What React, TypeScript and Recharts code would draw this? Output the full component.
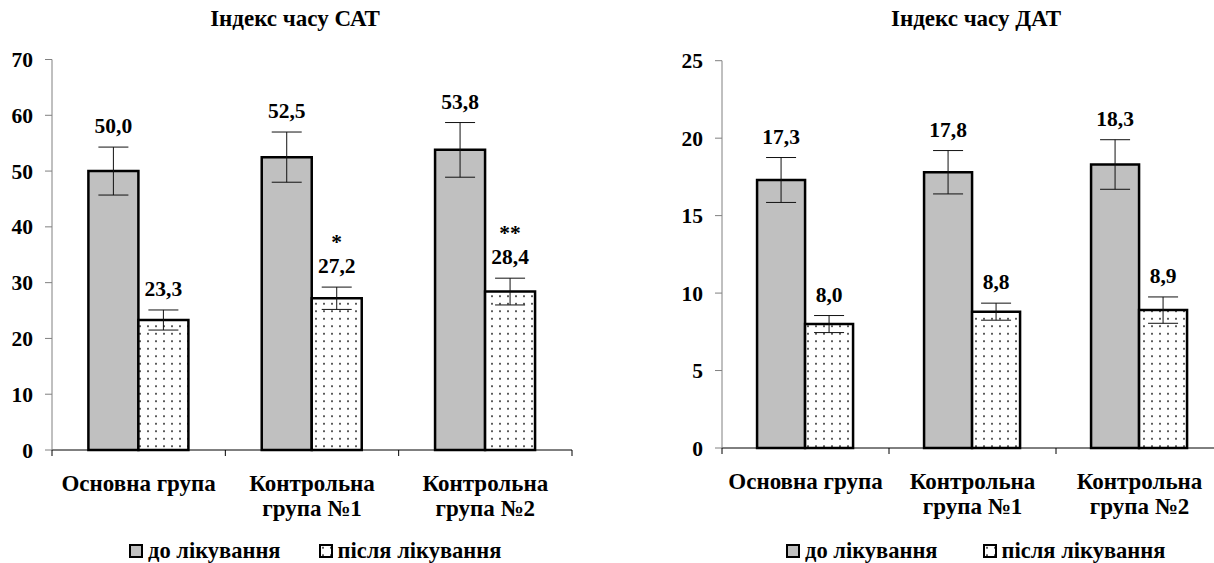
import { Bar, BarChart, ErrorBar, LabelList, XAxis, YAxis } from "recharts";

const categoryLines = [["Основна група"], ["Контрольна", "група №1"], ["Контрольна", "група №2"]];
const seriesNames = ["до лікування", "після лікування"];

// Індекс часу САТ
const satBefore = [50.0, 52.5, 53.8];
const satBeforeErr = [4.3, 4.5, 4.9];
const satAfter = [23.3, 27.2, 28.4];
const satAfterErr = [1.8, 2.0, 2.4];
const satMarks = ["", "*", "**"];
const satTicks = [0, 10, 20, 30, 40, 50, 60, 70];

// Індекс часу ДАТ
const datBefore = [17.3, 17.8, 18.3];
const datBeforeErr = [1.45, 1.4, 1.6];
const datAfter = [8.0, 8.8, 8.9];
const datAfterErr = [0.55, 0.55, 0.85];
const datTicks = [0, 5, 10, 15, 20, 25];

const font = '"Liberation Serif", "Times New Roman", serif';

function buildRows(before: number[], beforeErr: number[], after: number[], afterErr: number[]) {
  return categoryLines.map((lines, i) => ({
    name: lines.join(" "),
    before: before[i],
    beforeErr: beforeErr[i],
    after: after[i],
    afterErr: afterErr[i],
  }));
}

const valueLabel = (errs: number[], marks?: string[]) => (props: any) => {
  const { x, y, width, height, value, index } = props;
  const errTop = y - (errs[index] * height) / value;
  const cx = x + width / 2;
  const base = errTop - 14;
  return (
    <g>
      <text x={cx} y={base} textAnchor="middle" fontWeight="bold" fontSize={21.5} fontFamily={font} fill="#000">
        {Number(value).toFixed(1).replace(".", ",")}
      </text>
      {marks && marks[index] ? (
        <text x={cx} y={base - 24} textAnchor="middle" fontWeight="bold" fontSize={21.5} fontFamily={font} fill="#000">
          {marks[index]}
        </text>
      ) : null}
    </g>
  );
};

const CategoryTick = (props: any) => {
  const { x, y, payload, halfBand, index } = props;
  const lines = categoryLines.find((l) => l.join(" ") === payload.value) || [payload.value];
  return (
    <g>
      {index === 0 ? <line x1={x - halfBand} x2={x - halfBand} y1={y} y2={y + 6} stroke="#000" /> : null}
      <line x1={x + halfBand} x2={x + halfBand} y1={y} y2={y + 6} stroke="#000" />
      {lines.map((line, i) => (
        <text
          key={i}
          x={x}
          y={y + 41 + i * 25}
          textAnchor="middle"
          fontWeight="bold"
          fontSize={23}
          fontFamily={font}
          fill="#000"
        >
          {line}
        </text>
      ))}
    </g>
  );
};

type PanelProps = {
  title: string;
  rows: ReturnType<typeof buildRows>;
  ticks: number[];
  beforeErr: number[];
  afterErr: number[];
  marks?: string[];
  left: number;
  width: number;
  margin: { top: number; right: number; bottom: number; left: number };
  titleX: number;
  legendX: number;
  legendGap: number;
};

function Panel({
  title,
  rows,
  ticks,
  beforeErr,
  afterErr,
  marks,
  left,
  width,
  margin,
  titleX,
  legendX,
  legendGap,
}: PanelProps) {
  const halfBand = (width - margin.left - margin.right - 40) / rows.length / 2;
  return (
    <div style={{ position: "absolute", left, top: 0, width, height: 563 }}>
      <div
        style={{
          position: "absolute",
          left: titleX - 150,
          width: 300,
          top: 5,
          textAlign: "center",
          fontFamily: font,
          fontWeight: "bold",
          fontSize: 23,
          lineHeight: "28px",
        }}
      >
        {title}
      </div>
      <BarChart width={width} height={563} data={rows} margin={margin} barCategoryGap="21%" barGap={0}>
        <XAxis
          dataKey="name"
          height={60}
          axisLine={{ stroke: "#000" }}
          tickLine={false}
          tickSize={0}
          tickMargin={0}
          interval={0}
          tick={<CategoryTick halfBand={halfBand} />}
        />
        <YAxis
          width={40}
          domain={[0, ticks[ticks.length - 1]]}
          ticks={ticks}
          interval={0}
          tickSize={7}
          tickMargin={12}
          axisLine={{ stroke: "#808080" }}
          tickLine={{ stroke: "#808080" }}
          tick={{ fill: "#000", fontSize: 21.5, fontWeight: "bold", fontFamily: font }}
        />
        <Bar dataKey="before" fill="#c0c0c0" stroke="#000" strokeWidth={2.5} isAnimationActive={false}>
          <ErrorBar dataKey="beforeErr" width={15} stroke="#111" strokeWidth={1} direction="y" />
          <LabelList dataKey="before" content={valueLabel(beforeErr)} />
        </Bar>
        <Bar dataKey="after" fill="url(#dots)" stroke="#000" strokeWidth={2.5} isAnimationActive={false}>
          <ErrorBar dataKey="afterErr" width={15} stroke="#111" strokeWidth={1} direction="y" />
          <LabelList dataKey="after" content={valueLabel(afterErr, marks)} />
        </Bar>
      </BarChart>
      <div
        style={{
          position: "absolute",
          left: legendX,
          top: 540,
          display: "flex",
          alignItems: "center",
          fontFamily: font,
          fontWeight: "bold",
          fontSize: 22.5,
          lineHeight: "22px",
        }}
      >
        {seriesNames.map((name, i) => (
          <div key={name} style={{ display: "flex", alignItems: "center", marginRight: i === 0 ? legendGap : 0 }}>
            <svg width={14} height={14} style={{ marginRight: 5 }}>
              <rect
                x={1}
                y={1}
                width={12}
                height={12}
                fill={i === 0 ? "#c0c0c0" : "url(#dots)"}
                stroke="#000"
                strokeWidth={2}
              />
            </svg>
            <span>{name}</span>
          </div>
        ))}
      </div>
    </div>
  );
}

export default function App() {
  const satRows = buildRows(satBefore, satBeforeErr, satAfter, satAfterErr);
  const datRows = buildRows(datBefore, datBeforeErr, datAfter, datAfterErr);
  return (
    <div
      style={{
        position: "absolute",
        left: 0,
        top: 0,
        width: 1214,
        height: 563,
        overflow: "hidden",
        background: "#fff",
      }}
    >
      <svg width={0} height={0} style={{ position: "absolute" }}>
        <defs>
          <pattern id="dots" width={8} height={7.5} patternUnits="userSpaceOnUse">
            <rect width={8} height={7.5} fill="#fff" />
            <circle cx={4} cy={3.75} r={1} fill="#222" />
          </pattern>
        </defs>
      </svg>
      <Panel
        title="Індекс часу САТ"
        rows={satRows}
        ticks={satTicks}
        beforeErr={satBeforeErr}
        afterErr={satAfterErr}
        marks={satMarks}
        left={0}
        width={600}
        margin={{ top: 59.5, right: 28, bottom: 53, left: 12 }}
        titleX={295}
        legendX={129}
        legendGap={38}
      />
      <Panel
        title="Індекс часу ДАТ"
        rows={datRows}
        ticks={datTicks}
        beforeErr={datBeforeErr}
        afterErr={datAfterErr}
        left={620}
        width={620}
        margin={{ top: 60.7, right: 17, bottom: 55, left: 62 }}
        titleX={356}
        legendX={166}
        legendGap={45}
      />
    </div>
  );
}
